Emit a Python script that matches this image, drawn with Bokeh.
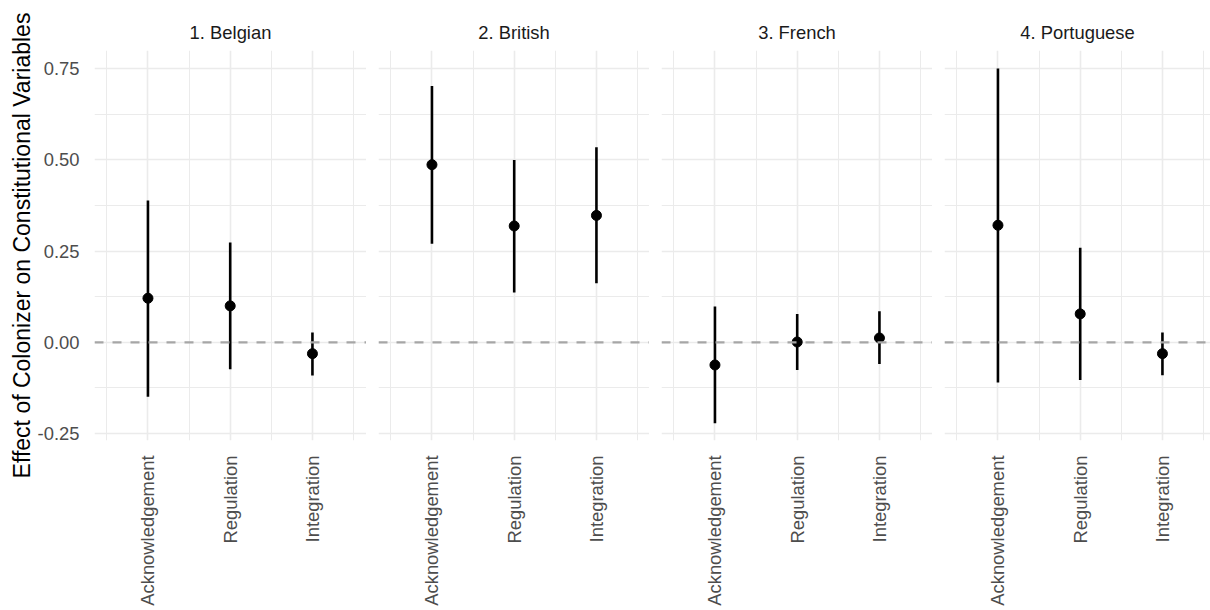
import math
from bokeh.plotting import figure
from bokeh.models import FixedTicker, Span, Range1d, ColumnDataSource
from bokeh.layouts import row
from bokeh.embed import file_html
from bokeh.resources import INLINE

# ---- data ----
colonizers = ["1. Belgian", "2. British", "3. French", "4. Portuguese"]
variables = ["Acknowledgement", "Regulation", "Integration"]

estimate = {
    "1. Belgian":    [0.121, 0.100, -0.031],
    "2. British":    [0.487, 0.319, 0.348],
    "3. French":     [-0.062, 0.001, 0.012],
    "4. Portuguese": [0.321, 0.078, -0.031],
}
lower = {
    "1. Belgian":    [-0.149, -0.074, -0.091],
    "2. British":    [0.270, 0.137, 0.162],
    "3. French":     [-0.222, -0.076, -0.059],
    "4. Portuguese": [-0.110, -0.103, -0.090],
}
upper = {
    "1. Belgian":    [0.389, 0.274, 0.027],
    "2. British":    [0.703, 0.500, 0.535],
    "3. French":     [0.098, 0.078, 0.085],
    "4. Portuguese": [0.751, 0.259, 0.027],
}

y_ticks = [-0.25, 0.0, 0.25, 0.5, 0.75]
y_minor = [-0.125, 0.125, 0.375, 0.625]
y_title = "Effect of Colonizer on Constitutional Variables"

FONT = "Liberation Sans"
positions = [i + 1 for i in range(len(variables))]
x_minor = [0.5, 1.5, 2.5, 3.5]

unit = 271.4 / 3.3
frames = [272, 271, 271, 266]
lefts = [94, 12, 12, 12]

figs = []
for k, col in enumerate(colonizers):
    fw = frames[k]
    xr = Range1d(0.35, 0.35 + fw / unit)
    p = figure(
        frame_width=fw, frame_height=390,
        x_range=xr, y_range=Range1d(-0.269, 0.800),
        output_backend="svg", toolbar_location=None,
        min_border_left=lefts[k], min_border_right=0,
        min_border_top=50, min_border_bottom=170,
        y_axis_location="left" if k == 0 else None,
        title=col,
    )
    p.outline_line_color = None
    p.background_fill_color = "white"
    p.border_fill_color = "white"

    p.title.text_font = FONT
    p.title.text_font_size = "18.4px"
    p.title.text_font_style = "normal"
    p.title.text_color = "#1a1a1a"
    p.title.align = "center"
    p.title.vertical_align = "top"
    p.title.standoff = 12

    # x axis
    p.xaxis.ticker = FixedTicker(ticks=positions, minor_ticks=x_minor)
    p.xaxis.major_label_overrides = {pos: v for pos, v in zip(positions, variables)}
    p.xaxis.major_label_orientation = math.pi / 2
    p.xaxis.major_label_text_font = FONT
    p.xaxis.major_label_text_font_size = "18.4px"
    p.xaxis.major_label_text_color = "#4d4d4d"
    p.xaxis.major_label_standoff = 11
    p.xaxis.axis_line_color = None
    p.xaxis.major_tick_line_color = None
    p.xaxis.minor_tick_line_color = None
    p.xaxis.major_tick_out = 0
    p.xaxis.major_tick_in = 0

    if k == 0:
        p.yaxis.ticker = FixedTicker(ticks=y_ticks, minor_ticks=y_minor)
        p.yaxis.major_label_overrides = {t: f"{t:.2f}" for t in y_ticks}
        p.yaxis.major_label_text_font = FONT
        p.yaxis.major_label_text_font_size = "18.4px"
        p.yaxis.major_label_text_color = "#4d4d4d"
        p.yaxis.major_label_standoff = 11
        p.yaxis.axis_line_color = None
        p.yaxis.major_tick_line_color = None
        p.yaxis.minor_tick_line_color = None
        p.yaxis.major_tick_out = 0
        p.yaxis.major_tick_in = 0
        p.yaxis.axis_label = y_title
        p.yaxis.axis_label_text_font = FONT
        p.yaxis.axis_label_text_font_size = "23px"
        p.yaxis.axis_label_text_font_style = "normal"
        p.yaxis.axis_label_text_color = "black"
        p.yaxis.axis_label_standoff = 0

    # grids
    p.xgrid.ticker = FixedTicker(ticks=positions, minor_ticks=x_minor)
    p.ygrid.ticker = FixedTicker(ticks=y_ticks, minor_ticks=y_minor)
    for g in (p.xgrid, p.ygrid):
        g.grid_line_color = "#ebebeb"
        g.grid_line_width = 1.6
        g.minor_grid_line_color = "#ebebeb"
        g.minor_grid_line_width = 1.0

    p.add_layout(Span(location=0, dimension="width", line_color="#a6a6a6",
                      line_width=2.2, line_dash="9 9"))

    src = ColumnDataSource(dict(x=positions, est=estimate[col],
                                lo=lower[col], hi=upper[col]))
    p.segment(x0="x", y0="lo", x1="x", y1="hi", source=src,
              line_color="black", line_width=2.6)
    p.scatter(x="x", y="est", source=src, size=10, fill_color="black",
              line_color="black")
    figs.append(p)

layout = row(*figs, spacing=0)
open("out.html", "w").write(file_html(layout, INLINE))
